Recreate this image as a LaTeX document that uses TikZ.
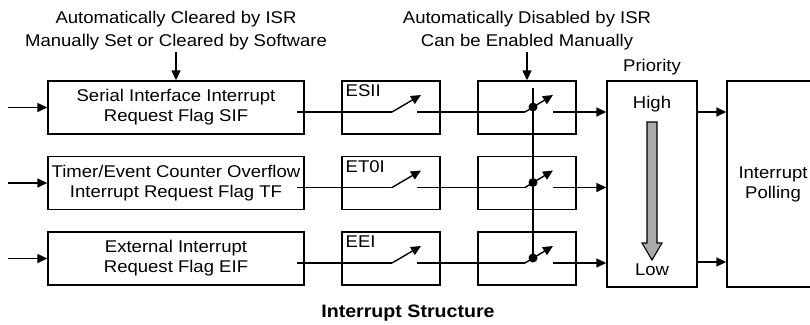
\documentclass[tikz,border=0pt]{standalone}
\usepackage{fontspec}
\setmainfont[FakeStretch=1.09]{Liberation Sans}
\usetikzlibrary{arrows.meta}
\begin{document}
\begin{tikzpicture}[x=1pt,y=-1pt,line width=1.4pt,
  box/.style={draw,line width=1.4pt,inner sep=0pt,align=center,
    font=\fontsize{17}{20}\selectfont},
  lbl/.style={inner sep=0pt,align=center,font=\fontsize{17}{23}\selectfont},
  arr/.style={-{Triangle[length=10pt,width=9pt]}},
  dotn/.style={circle,fill,inner sep=0pt,minimum size=9pt}]
\useasboundingbox (0,0) rectangle (810,324);

% top labels
\node[lbl,anchor=north] (t1) at (176,10.5) {Automatically Cleared by ISR\\Manually Set or Cleared by Software};
\node[lbl,anchor=north] (t2) at (527,10.5) {Automatically Disabled by ISR\\Can be Enabled Manually};
\coordinate (a1) at (176,52);
\coordinate (a2) at (527,52);

% priority and polling
\node[box,minimum width=90pt,minimum height=206pt] (p) at (652,184) {};
\node[box,minimum width=92pt,minimum height=206pt] (q) at (773,184) {Interrupt\\Polling};
\node[lbl] (prio) at (652,67) {Priority};
\node[lbl] (hi) at (652,104) {High};
\node[lbl] (lo) at (652,270) {Low};
\draw[line width=1.1pt,fill=black!33] (647,122) -- (657,122) -- (657,243) -- (662,243)
  -- (652,260) -- (642,243) -- (647,243) -- cycle;

\foreach \r/\txt/\en in {1/{Serial Interface Interrupt\\Request Flag SIF}/ESII,
                         2/{Timer/Event Counter Overflow\\Interrupt Request Flag TF}/ET0I,
                         3/{External Interrupt\\Request Flag EIF}/EEI}{
  \pgfmathsetmacro\yc{107.5+(\r-1)*75.5}
  \node[box,minimum width=256pt,minimum height=53pt] (f\r) at (176,\yc) {\txt};
  \node[box,minimum width=98pt,minimum height=53pt] (e\r) at (391,\yc) {};
  \node[box,minimum width=98pt,minimum height=53pt] (g\r) at (527,\yc) {};
  \node[lbl,anchor=west] (el\r) at (345,\yc-16.5) {\en};
  \coordinate (in\r) at (8,\yc);
  \coordinate (s\r) at (297,\yc+4.5);
  \coordinate (k\r) at (392,\yc+4.5);
  \coordinate (kt\r) at (421,\yc-12.5);
  \coordinate (m\r) at (417,\yc+4.5);
  \coordinate (n\r) at (525,\yc+4.5);
  \coordinate (nt\r) at (553,\yc-12.5);
  \coordinate (o\r) at (553,\yc+4.5);
  \node[dotn] (d\r) at (533,\yc-0.5) {};
  \draw[arr] (in\r) -- (f\r.west);
  \draw (s\r) -- (k\r);
  \draw[arr] (k\r) -- (kt\r);
  \draw (m\r) -- (n\r);
  \draw[arr] (n\r) -- (nt\r);
  \draw[arr] (o\r) -- (o\r -| p.west);
}
\coordinate (vt) at (533,88);
\draw (vt) -- (d3.center);
\draw[arr] (a1) -- (f1.north);
\draw[arr] (a2) -- (g1.north);
\draw[arr] (o1 -| p.east) -- (o1 -| q.west);
\coordinate (b3) at (697,262);
\draw[arr] (b3) -- (b3 -| q.west);

\node[inner sep=0pt,font=\fontsize{18}{22}\selectfont\bfseries] (cap) at (408,313) {Interrupt Structure};
\end{tikzpicture}
\end{document}
